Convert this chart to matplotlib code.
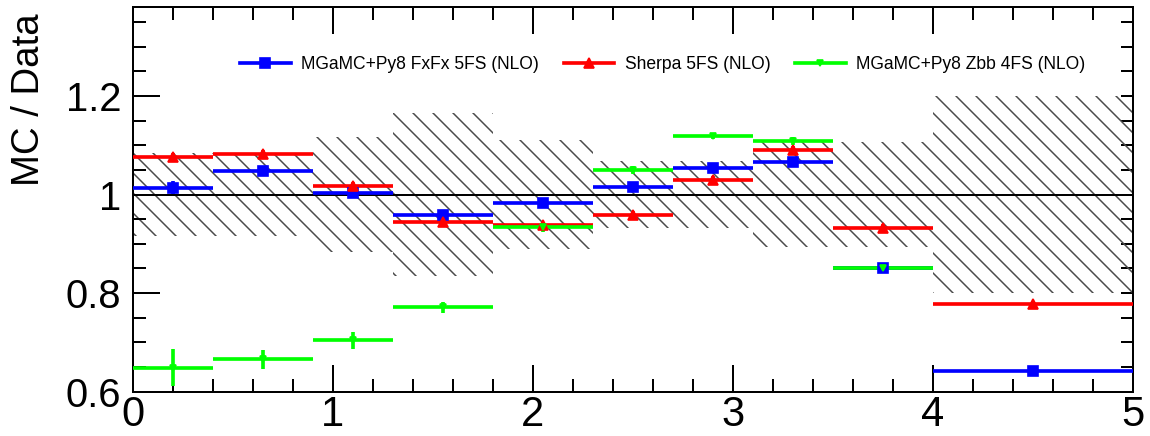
import numpy as np
import matplotlib
matplotlib.use("Agg")
import matplotlib.pyplot as plt
from matplotlib.ticker import MultipleLocator, NullFormatter
from matplotlib.lines import Line2D

# ---------------- data ----------------
bin_edges = [0.0, 0.4, 0.9, 1.3, 1.8, 2.3, 2.7, 3.1, 3.5, 4.0, 5.0]
syst_unc = [0.085, 0.085, 0.117, 0.165, 0.110, 0.068, 0.068, 0.106, 0.107, 0.200]

fxfx_ratio = [1.014, 1.047, 1.004, 0.959, 0.982, 1.016, 1.053, 1.066, 0.852, 0.643]
fxfx_err = [0.013, 0.008, 0.007, 0.009, 0.007, 0.008, 0.008, 0.009, 0.008, 0.006]

sherpa_ratio = [1.077, 1.082, 1.018, 0.945, 0.938, 0.958, 1.029, 1.091, 0.933, 0.778]
sherpa_err = [0.008, 0.008, 0.008, 0.008, 0.007, 0.008, 0.008, 0.008, 0.007, 0.006]

zbb_ratio = [0.649, 0.666, 0.704, 0.771, 0.934, 1.050, 1.1185, 1.108, 0.852, np.nan]
zbb_err = [0.037, 0.019, 0.018, 0.012, 0.010, 0.008, 0.006, 0.008, 0.006, np.nan]

labels = ["MGaMC+Py8 FxFx 5FS (NLO)", "Sherpa 5FS (NLO)", "MGaMC+Py8 Zbb 4FS (NLO)"]
colors = ["#0000ff", "#ff0000", "#00ff00"]
markers = ["s", "^", "v"]
msizes = [6.0, 6.0, 3.5]

# ---------------- figure ----------------
plt.rcParams["font.family"] = ["Liberation Sans", "DejaVu Sans"]
plt.rcParams["hatch.linewidth"] = 0.9
DPI = 120
fig = plt.figure(figsize=(1150 / DPI, 436 / DPI), dpi=DPI)
ax = fig.add_axes([0.1154, 0.1016, 0.8696, 0.8817])

edges = np.array(bin_edges)
lo = edges[:-1]
widths = np.diff(edges)
centers = lo + widths / 2
unc = np.array(syst_unc)

# hatched uncertainty band
ax.bar(lo, 2 * unc, bottom=1 - unc, width=widths, align="edge",
       fill=False, hatch="\\\\", edgecolor="#4a4a4a", linewidth=0, zorder=1)

ax.axhline(1.0, color="black", lw=1.2, zorder=2)

series = [(fxfx_ratio, fxfx_err), (sherpa_ratio, sherpa_err), (zbb_ratio, zbb_err)]
for (vals, errs), c, m, ms in zip(series, colors, markers, msizes):
    ax.errorbar(centers, vals, xerr=widths / 2, yerr=errs, fmt=m, color=c,
                ms=ms, elinewidth=2.2, capsize=0, zorder=3)

ax.set_xlim(0, 5)
ax.set_ylim(0.6, 1.38)

ax.xaxis.set_major_locator(MultipleLocator(1))
ax.xaxis.set_minor_locator(MultipleLocator(0.2))
ax.yaxis.set_major_locator(MultipleLocator(0.2))
ax.yaxis.set_minor_locator(MultipleLocator(0.05))
ax.yaxis.set_major_formatter(matplotlib.ticker.FuncFormatter(
    lambda v, p: ("%g" % round(v, 2))))

ax.tick_params(axis="both", which="both", direction="in", width=1.2,
               top=True, right=False)
ax.tick_params(axis="both", which="major", length=16)
ax.tick_params(axis="both", which="minor", length=7.8)
ax.tick_params(axis="x", which="major", labelsize=25, pad=2)
ax.tick_params(axis="y", which="major", labelsize=24, pad=7)

sec = ax.secondary_yaxis("right")
sec.yaxis.set_major_locator(MultipleLocator(0.2))
sec.yaxis.set_minor_locator(MultipleLocator(0.05))
sec.yaxis.set_major_formatter(NullFormatter())
sec.tick_params(axis="y", which="both", direction="in", length=7.5, width=1.2)
sec.spines["right"].set_linewidth(1.2)

for s in ax.spines.values():
    s.set_linewidth(1.2)

ax.set_ylabel("MC / Data", fontsize=23)
ax.yaxis.set_label_coords(-0.086, 0.76)

handles = [Line2D([], [], color=c, marker=m, ms=ms, lw=2.2)
           for c, m, ms in zip(colors, markers, msizes)]
ax.legend(handles, labels, loc="center", bbox_to_anchor=(0.53, 0.85),
          ncol=3, frameon=False, fontsize=10.5, handlelength=2.9,
          handletextpad=0.6, columnspacing=1.4)

fig.savefig("out.png", dpi=DPI)
